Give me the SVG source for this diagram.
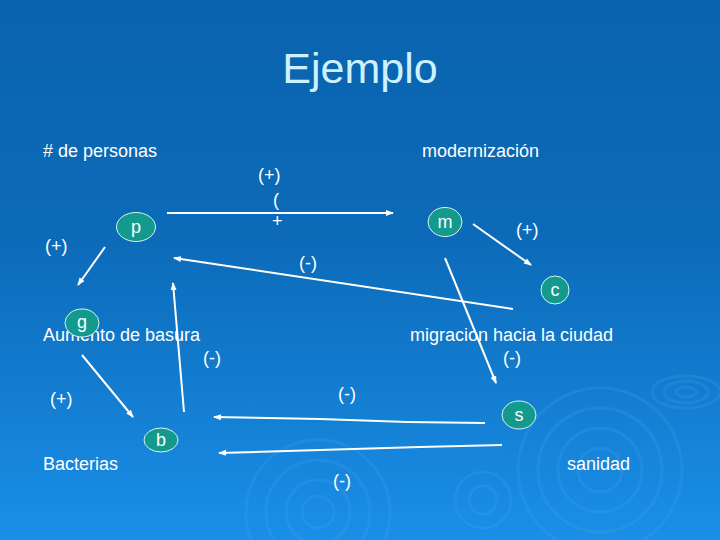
<svg xmlns="http://www.w3.org/2000/svg" width="720" height="540" viewBox="0 0 720 540">
<defs>
<linearGradient id="bg" x1="0" y1="0" x2="0" y2="1">
<stop offset="0" stop-color="#0a63ae"/>
<stop offset="0.45" stop-color="#0c6bb9"/>
<stop offset="1" stop-color="#1a8fe8"/>
</linearGradient>
<marker id="arr" markerWidth="8" markerHeight="8" refX="7" refY="4" orient="auto" markerUnits="userSpaceOnUse">
<path d="M0,1 L8,4 L0,7 Z" fill="#ffffff"/>
</marker>
<style>
.t{font-family:"Liberation Sans",Arial,sans-serif;font-size:18px;fill:#ffffff}
.n{fill:#139a8c;stroke:#d8f4f0;stroke-width:1}
.nl{font-family:"Liberation Sans",Arial,sans-serif;font-size:18px;fill:#ffffff;text-anchor:middle}
.c{stroke:#ffffff;stroke-width:2;fill:none;marker-end:url(#arr)}
.r{fill:none;stroke:#49a6ee;stroke-opacity:0.22;stroke-width:3}
</style>
</defs>
<rect width="720" height="540" fill="url(#bg)"/>
<g id="ripples">
<circle class="r" cx="318" cy="512" r="16"/><circle class="r" cx="318" cy="512" r="32"/><circle class="r" cx="318" cy="512" r="52"/><circle class="r" cx="318" cy="512" r="72"/>
<circle class="r" cx="483" cy="500" r="14"/><circle class="r" cx="483" cy="500" r="28"/>
<circle class="r" cx="600" cy="470" r="22"/><circle class="r" cx="600" cy="470" r="42"/><circle class="r" cx="600" cy="470" r="62"/><circle class="r" cx="600" cy="470" r="82"/>
<ellipse class="r" cx="686" cy="392" rx="10" ry="5"/><ellipse class="r" cx="686" cy="392" rx="22" ry="11"/><ellipse class="r" cx="686" cy="392" rx="34" ry="16"/>
</g>
<text x="360" y="83" text-anchor="middle" font-family="'Liberation Sans',Arial,sans-serif" font-size="43" fill="#ccf2ff">Ejemplo</text>
<g id="connectors">
<line class="c" x1="167" y1="213" x2="393" y2="213"/>
<line class="c" x1="105" y1="247" x2="78" y2="285"/>
<line class="c" x1="513" y1="309" x2="174" y2="258"/>
<line class="c" x1="473" y1="224" x2="531" y2="265"/>
<line class="c" x1="445" y1="258" x2="496" y2="383"/>
<line class="c" x1="184" y1="412" x2="173" y2="283"/>
<line class="c" x1="82" y1="355" x2="133" y2="417"/>
<polyline class="c" points="485,423 407,422 320,419 214,417"/>
<polyline class="c" points="502,445 420,447 320,450 219,453"/>
</g>
<g id="labels">
<text class="t" x="43" y="157"># de personas</text>
<text class="t" x="422" y="157">modernización</text>
<text class="t" x="258" y="181">(+)</text>
<text class="t" x="273" y="206">(</text>
<text class="t" x="272" y="227">+</text>
<text class="t" x="45" y="252">(+)</text>
<text class="t" x="299" y="269">(-)</text>
<text class="t" x="516" y="236">(+)</text>
<text class="t" x="203" y="364">(-)</text>
<text class="t" x="503" y="364">(-)</text>
<text class="t" x="50" y="405">(+)</text>
<text class="t" x="338" y="400">(-)</text>
<text class="t" x="333" y="487">(-)</text>
<text class="t" x="43" y="341">Aumento de basura</text>
<text class="t" x="410" y="341">migracion hacia la ciudad</text>
<text class="t" x="43" y="470">Bacterias</text>
<text class="t" x="567" y="470">sanidad</text>
</g>
<g id="node-p"><ellipse class="n" cx="136" cy="227" rx="19.5" ry="14.5"/><text class="nl" x="136" y="233">p</text></g>
<g id="node-m"><ellipse class="n" cx="445" cy="222" rx="17" ry="14.5"/><text class="nl" x="445" y="228">m</text></g>
<g id="node-c"><ellipse class="n" cx="555" cy="290" rx="14" ry="14"/><text class="nl" x="555" y="296">c</text></g>
<g id="node-g"><ellipse class="n" cx="82" cy="323" rx="17" ry="14"/><text class="nl" x="82" y="328">g</text></g>
<g id="node-s"><ellipse class="n" cx="519" cy="415" rx="17" ry="14"/><text class="nl" x="519" y="421">s</text></g>
<g id="node-b"><ellipse class="n" cx="161" cy="440" rx="17" ry="12"/><text class="nl" x="161" y="446">b</text></g>
</svg>
